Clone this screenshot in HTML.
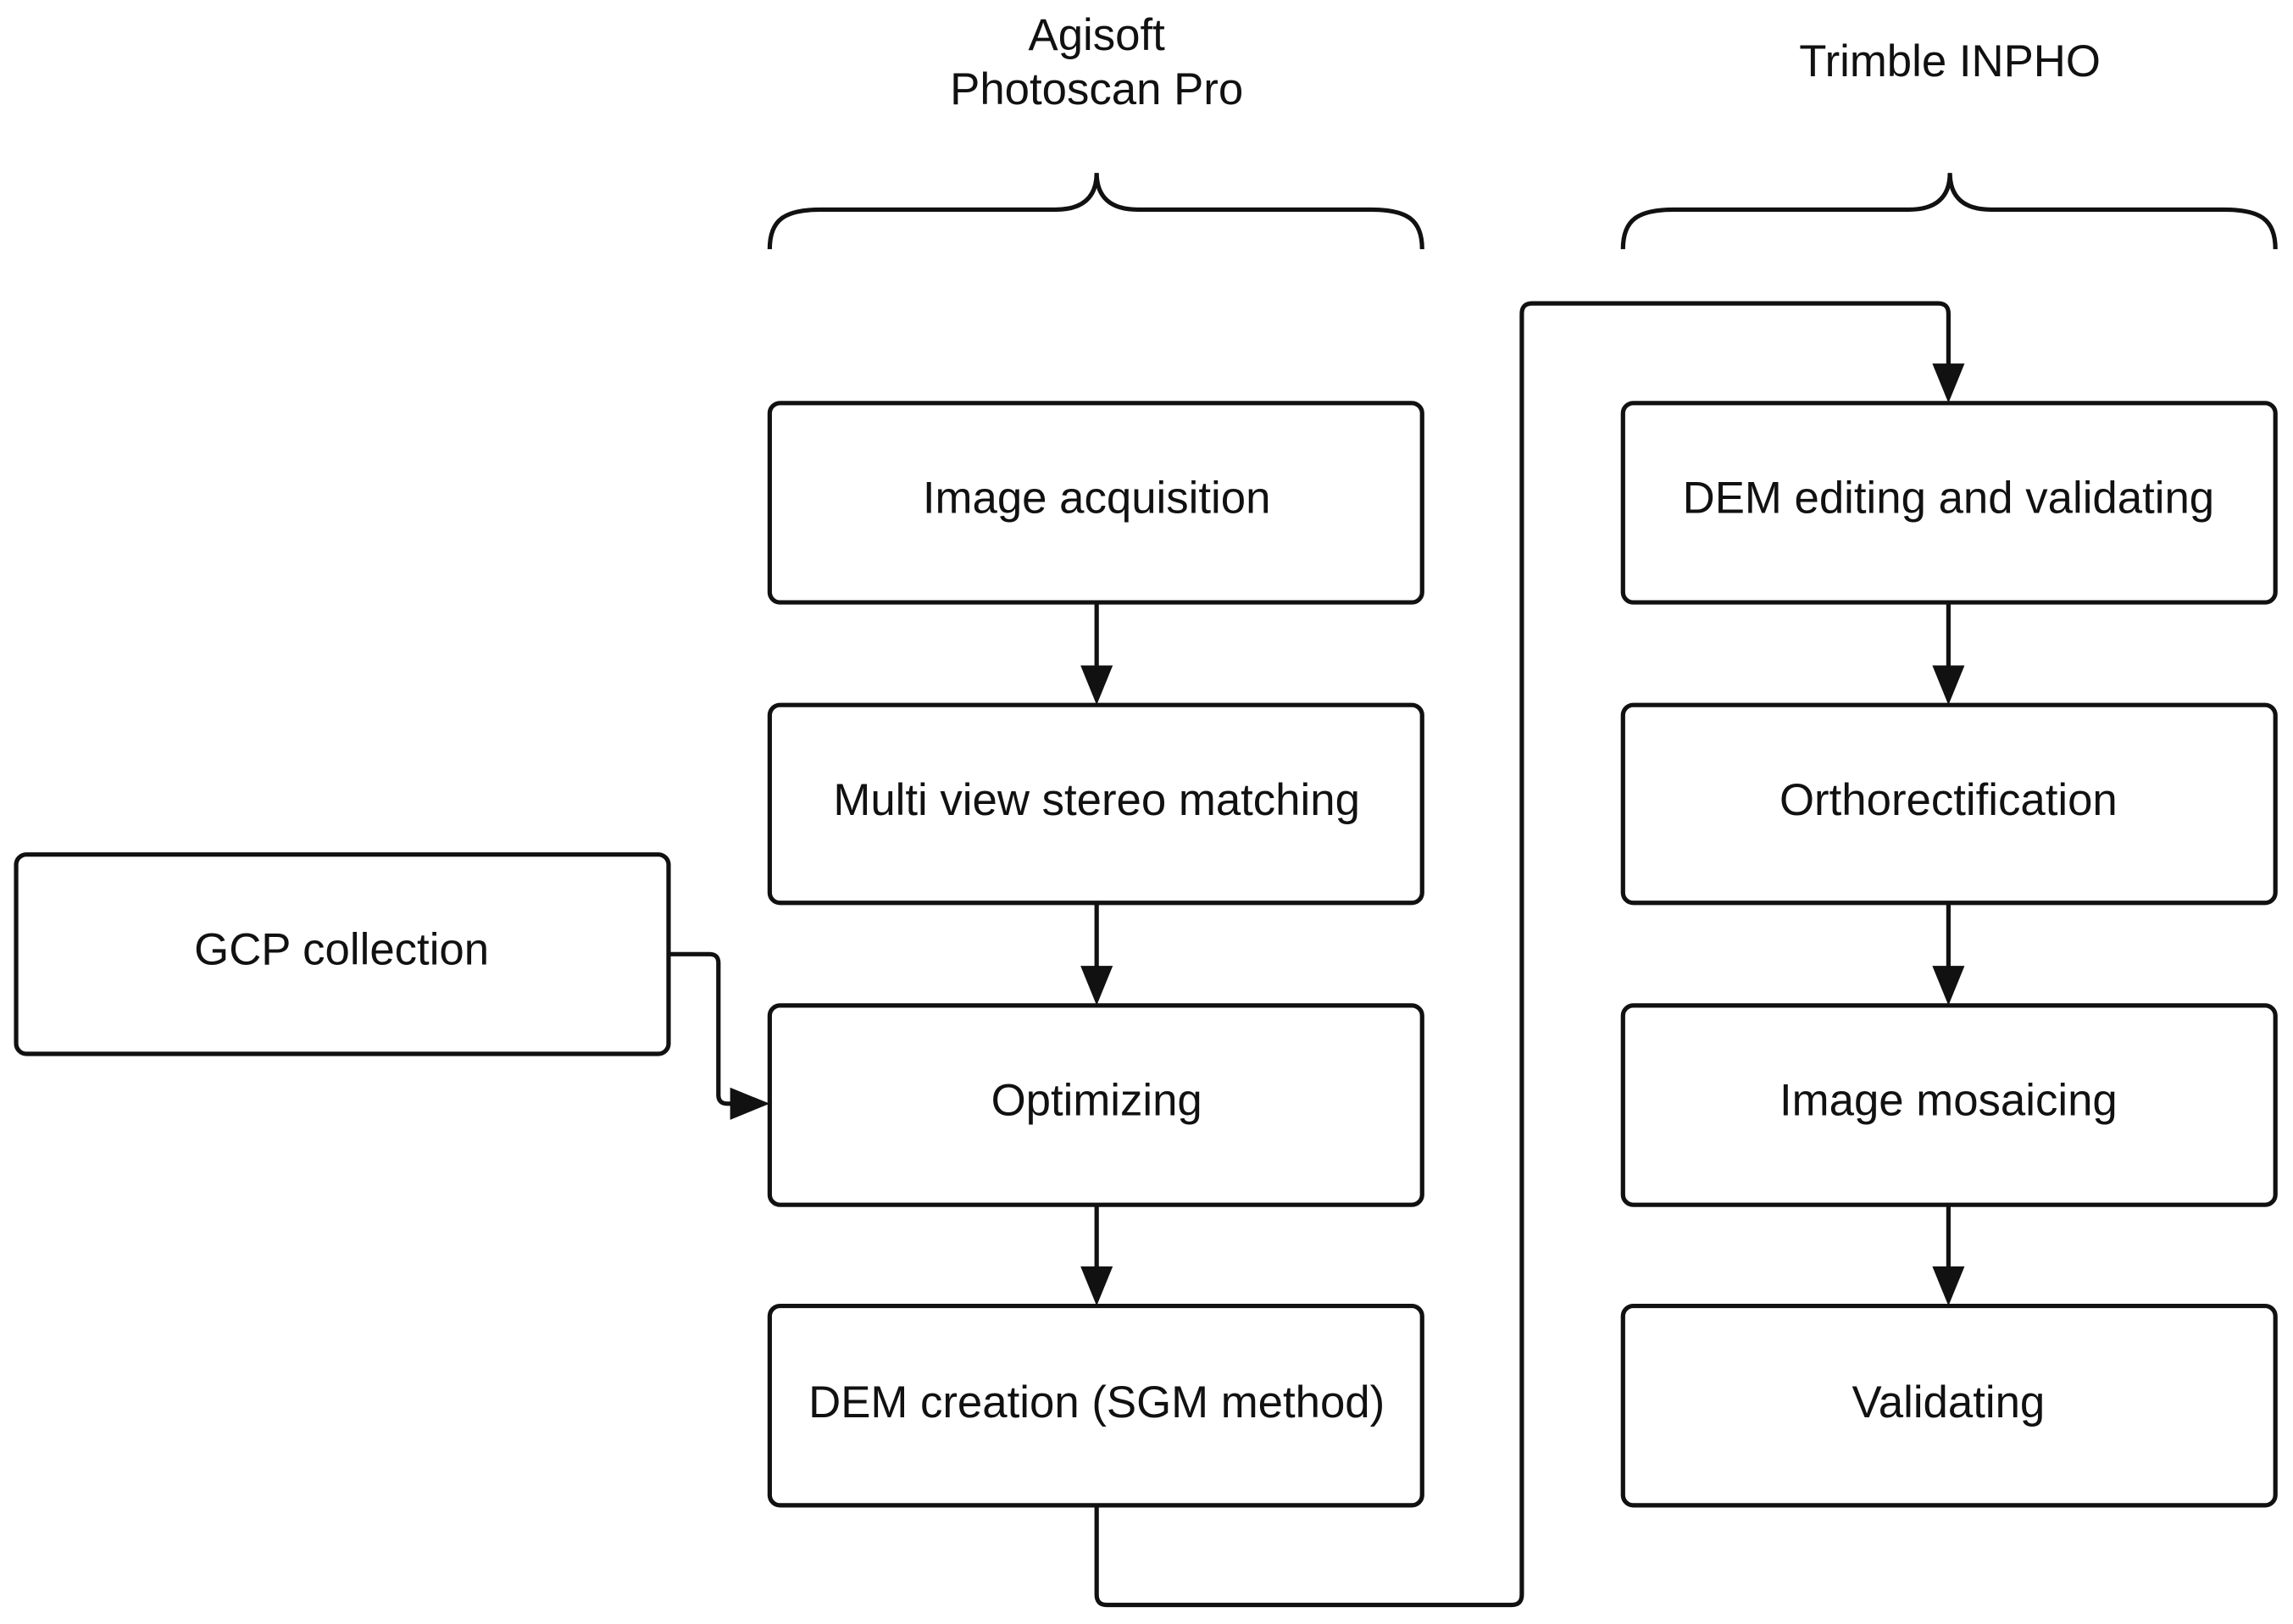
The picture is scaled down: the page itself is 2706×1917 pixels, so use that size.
<!DOCTYPE html>
<html><head><meta charset="utf-8"><style>
html,body{margin:0;padding:0;background:#fff;}
svg{display:block;}
text{font-family:"Liberation Sans",Arial,sans-serif;font-size:30.5px;fill:#111;text-anchor:middle;}
</style></head><body>
<svg width="2706" height="1917" viewBox="0 0 1564 1108" xmlns="http://www.w3.org/2000/svg">
<rect width="1564" height="1108" fill="#fff"/>
<g fill="none" stroke="#111" stroke-width="3">
<rect x="525" y="275" width="445" height="136" rx="7"/>
<rect x="525" y="481" width="445" height="135" rx="7"/>
<rect x="525" y="686" width="445" height="136" rx="7"/>
<rect x="525" y="891" width="445" height="136" rx="7"/>
<rect x="1107" y="275" width="445" height="136" rx="7"/>
<rect x="1107" y="481" width="445" height="135" rx="7"/>
<rect x="1107" y="686" width="445" height="136" rx="7"/>
<rect x="1107" y="891" width="445" height="136" rx="7"/>
<rect x="11" y="583" width="445" height="136" rx="7"/>
<path d="M525 170 C525 150 535 143 560 143 L720 143 C738 143 748 135 748 118 C748 135 758 143 776 143 L935 143 C960 143 970 150 970 170"/>
<path d="M1107 170 C1107 150 1117 143 1142 143 L1302 143 C1320 143 1330 135 1330 118 C1330 135 1340 143 1358 143 L1517 143 C1542 143 1552 150 1552 170"/>
<path d="M748 411 V456 M748 616 V661 M748 822 V866 M1329 411 V456 M1329 616 V661 M1329 822 V866"/>
<path d="M748 1027 V1088 Q748 1095 755 1095 H1031 Q1038 1095 1038 1088 V214 Q1038 207 1045 207 H1322 Q1329 207 1329 214 V250"/>
<path d="M456 651 H484 Q490 651 490 657 V747 Q490 753 496 753 H500"/>
</g>
<g fill="#111">
<polygon points="737,454 759,454 748,481"/>
<polygon points="737,659 759,659 748,686"/>
<polygon points="737,864 759,864 748,891"/>
<polygon points="1318,454 1340,454 1329,481"/>
<polygon points="1318,659 1340,659 1329,686"/>
<polygon points="1318,864 1340,864 1329,891"/>
<polygon points="1318,248 1340,248 1329,275"/>
<polygon points="498,742 498,764 525,753"/>
</g>
<text x="748" y="34">Agisoft</text>
<text x="748" y="71">Photoscan Pro</text>
<text x="1330" y="52">Trimble INPHO</text>
<text x="748" y="350">Image acquisition</text>
<text x="748" y="556">Multi view stereo matching</text>
<text x="748" y="761">Optimizing</text>
<text x="748" y="967">DEM creation (SGM method)</text>
<text x="1329" y="350">DEM editing and validating</text>
<text x="1329" y="556">Orthorectification</text>
<text x="1329" y="761">Image mosaicing</text>
<text x="1329" y="967">Validating</text>
<text x="233" y="658">GCP collection</text>
</svg>
</body></html>
